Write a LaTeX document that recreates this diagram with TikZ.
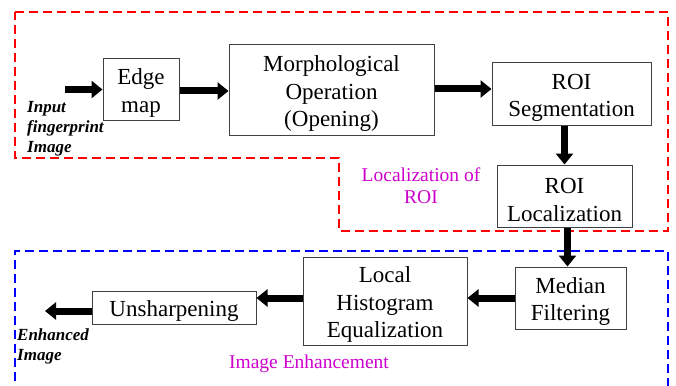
\documentclass[tikz,border=0pt]{standalone}
\usepackage{fontspec}
\setmainfont{Liberation Serif}
\usetikzlibrary{arrows.meta}
\definecolor{mag}{RGB}{204,0,204}
\newcommand\tpad{\rule{0pt}{23pt}}
\tikzset{
  blk/.style={draw=black!75, line width=1pt, fill=white, inner sep=0pt, align=center,
    font=\fontsize{23}{27.5}\selectfont},
  fat/.style={line width=7pt, -{Triangle[length=11pt,width=17pt]}},
  lbl/.style={inner sep=0pt, align=left, font=\fontsize{17}{20}\selectfont\bfseries\itshape},
  mlbl/.style={inner sep=0pt, align=center, text=mag, font=\fontsize{19.5}{22}\selectfont},
  reg/.style={line width=2pt, dash pattern=on 9pt off 5pt}
}
\begin{document}
\begin{tikzpicture}[x=1pt,y=-1pt]
\useasboundingbox (0,0) rectangle (676,385);
\clip (0,0) rectangle (676,385);
% regions
\draw[reg, red] (15,12) -- (668,12) -- (668,231) -- (339,231) -- (339,158) -- (15,158) -- cycle;
\draw[reg, blue] (15,395) -- (15,251) -- (668,251) -- (668,395);
% boxes
\node[blk, minimum width=76pt, minimum height=61pt] (edge) at (141,89.5) {\tpad Edge\\map};
\node[blk, minimum width=205pt, minimum height=90pt] (morph) at (331.5,90) {\tpad Morphological\\Operation\\(Opening)};
\node[blk, minimum width=159pt, minimum height=62pt] (seg) at (571.5,94) {\tpad ROI\\Segmentation};
\node[blk, minimum width=135pt, minimum height=62pt] (loc) at (564.5,196) {\tpad ROI\\Localization};
\node[blk, minimum width=111pt, minimum height=62pt] (med) at (570.5,298) {\tpad Median\\Filtering};
\node[blk, minimum width=164pt, minimum height=88pt] (lhe) at (385,301) {\tpad Local\\Histogram\\Equalization};
\node[blk, minimum width=164pt, minimum height=33pt] (uns) at (174,307.5) {\tpad Unsharpening};
% labels
\node[lbl, anchor=north west] (inlbl) at (27,101.5) {Input\\fingerprint\\Image};
\node[lbl, anchor=north west] (outlbl) at (17,328) {Enhanced\\Image};
\node[mlbl, anchor=north] (roilbl) at (421,167.5) {Localization of\\ROI};
\node[mlbl, anchor=north] (enhlbl) at (309,355) {Image Enhancement};
% connectors
\coordinate (in) at (65,89.5);
\coordinate (out) at (45,311);
\draw[fat] (in) -- (edge.west);
\draw[fat] ([yshift=-1.5pt]edge.east) -- ([yshift=-1.5pt]edge.east -| morph.west);
\draw[fat] ([yshift=1pt]morph.east) -- ([yshift=1pt]morph.east -| seg.west);
\draw[fat] (loc.north |- seg.south) -- (loc.north);
\draw[fat] ([xshift=3pt]loc.south) -- ([xshift=3pt]loc.south |- med.north);
\draw[fat] (med.west) -- (med.west -| lhe.east);
\draw[fat] ([yshift=3pt]lhe.west) -- ([yshift=3pt]lhe.west -| uns.east);
\draw[fat] (uns.west |- out) -- (out);
\end{tikzpicture}
\end{document}
